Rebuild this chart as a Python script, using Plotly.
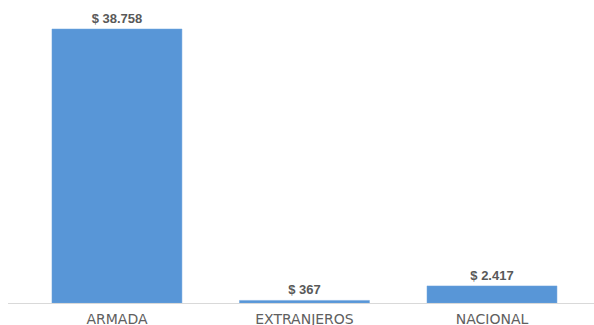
import plotly.graph_objects as go

categories = ["ARMADA", "EXTRANJEROS", "NACIONAL"]
values = [38758, 367, 2417]

fig = go.Figure(go.Bar(
    x=categories,
    y=values,
    width=0.693,
    marker=dict(color="#5896D7", line=dict(color="#6FA5DD", width=0.5)),
    texttemplate="$ %{y:,.0f}",
    textposition="outside",
    textfont=dict(family="Liberation Sans, Arial", size=13, color="#595959", weight="bold"),
    cliponaxis=False,
    hoverinfo="skip",
))

fig.update_layout(
    width=594, height=325,
    margin=dict(l=8, r=0, t=0, b=22),
    paper_bgcolor="white", plot_bgcolor="white",
    separators=",.",
    showlegend=False,
    font=dict(family="Liberation Sans, Arial", color="#595959"),
    uniformtext=dict(minsize=1),
    xaxis=dict(
        range=[-0.581, 2.544],
        showline=True, linecolor="#d9d9d9", linewidth=1,
        ticks="outside", ticklen=3, tickcolor="rgba(0,0,0,0)",
        tickfont=dict(family="DejaVu Sans", size=14, color="#606060"),
        showgrid=False, zeroline=False, automargin=False,
    ),
    yaxis=dict(
        range=[0, 42860], visible=False, showgrid=False, zeroline=False,
    ),
)
fig.write_html(
    "out.html",
    config={"displayModeBar": False, "staticPlot": True},
    post_script="document.body.style.margin='0';document.body.style.overflow='hidden';",
)
